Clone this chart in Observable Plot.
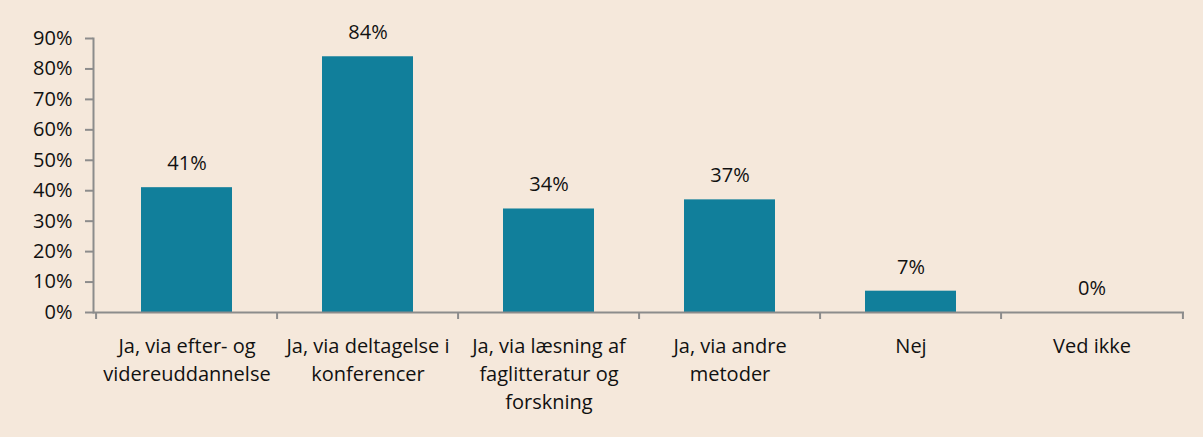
<!DOCTYPE html>
<html>
<head>
<meta charset="utf-8">
<script src="https://cdn.jsdelivr.net/npm/d3@7"></script>
<script src="https://cdn.jsdelivr.net/npm/@observablehq/plot@0.6"></script>
<style>
  html, body { margin: 0; padding: 0; background: #F5E8DB; }
  #chart svg { display: block; }
</style>
</head>
<body>
<div id="chart"></div>
<script>
const categories = [
  "Ja, via efter- og\nvidereuddannelse",
  "Ja, via deltagelse i\nkonferencer",
  "Ja, via læsning af\nfaglitteratur og\nforskning",
  "Ja, via andre\nmetoder",
  "Nej",
  "Ved ikke"
];
const values = [41, 84, 34, 37, 7, 0];
const yTicks = [0, 10, 20, 30, 40, 50, 60, 70, 80, 90];

const data = categories.map((c, i) => ({category: c, value: values[i]}));

const W = 1203, H = 437;
const mL = 93, mR = 19, mT = 38, mB = 125;
const step = (W - mL - mR) / categories.length;
const font = "'Open Sans', 'Noto Sans', sans-serif";
const axisColor = "#8c8c8c";
const textColor = "#111111";

const chart = Plot.plot({
  width: W,
  height: H,
  marginLeft: mL,
  marginRight: mR,
  marginTop: mT,
  marginBottom: mB,
  style: {background: "#F5E8DB", fontFamily: font, fontSize: "20px", color: textColor},
  x: {domain: categories, paddingInner: 0.5, paddingOuter: 0.25, align: 0.5},
  y: {domain: [0, 90]},
  marks: [
    Plot.barY(data, {x: "category", y: "value", fill: "#117F9B"}),
    Plot.text(data, {x: "category", y: "value", text: d => d.value + "%", dy: -24, fontSize: 20, fill: textColor}),
    Plot.frame({anchor: "left", stroke: axisColor, strokeWidth: 2}),
    Plot.ruleY([0], {stroke: axisColor, strokeWidth: 2}),
    Plot.axisY({ticks: yTicks, tickFormat: d => d + "%", tickSize: 8, tickPadding: 13, stroke: axisColor, strokeWidth: 2, fill: textColor, fontSize: 20, label: null}),
    Plot.axisX({ticks: categories, tickSize: 7, text: null, dx: -step / 2, stroke: axisColor, strokeWidth: 2, label: null}),
    Plot.axisX({ticks: [categories[categories.length - 1]], tickSize: 7, text: null, dx: step / 2, stroke: axisColor, strokeWidth: 2, label: null}),
    Plot.axisX({ticks: categories, tickSize: 0, tickPadding: 20, lineHeight: 1.42, fill: textColor, fontSize: 20, label: null})
  ]
});
document.getElementById("chart").appendChild(chart);
</script>
</body>
</html>
